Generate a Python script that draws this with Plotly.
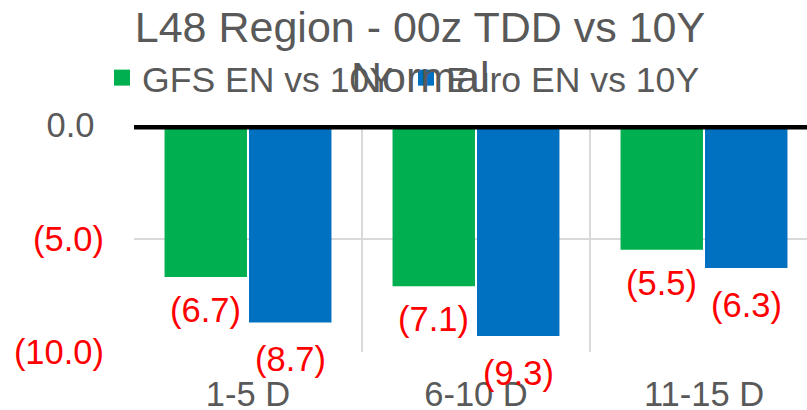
import plotly.graph_objects as go

categories = ["1-5 D", "6-10 D", "11-15 D"]
gfs_vals = [-6.7, -7.1, -5.5]
euro_vals = [-8.7, -9.3, -6.3]
series_names = ["GFS EN vs 10Y", "Euro EN vs 10Y"]
title_lines = ["L48 Region - 00z TDD vs 10Y", "Normal"]
y_tickvals = [0, -5, -10]
y_ticktext = ["0.0\u00a0", "(5.0)", "(10.0)"]
y_tickcolors = ["#595959", "#FF0000", "#FF0000"]

GREEN = "#00B050"
BLUE = "#0070C0"
GREY = "#595959"
FONT = "Liberation Sans, Arial, sans-serif"


def fmt(v):
    return f"({abs(v):.1f})" if v < 0 else f"{v:.1f}"


fig = go.Figure()
for vals, name, col in zip([gfs_vals, euro_vals], series_names, [GREEN, BLUE]):
    fig.add_trace(go.Bar(x=categories, y=vals, name=name, showlegend=False,
                         marker=dict(color=col, line=dict(width=0))))
# legend entries (square keys)
for name, col in zip(series_names, [GREEN, BLUE]):
    fig.add_trace(go.Scatter(x=[None], y=[None], mode="markers", name=name,
                             marker=dict(symbol="square", size=16, color=col,
                                         line=dict(width=0))))

# data labels below each bar end
offsets = [-42.5, 42.5]
yshifts = [-33, -37]
for vals, dx, dy in zip([gfs_vals, euro_vals], offsets, yshifts):
    for c, v in zip(categories, vals):
        fig.add_annotation(x=c, y=v, xref="x", yref="y", text=fmt(v),
                           showarrow=False, xshift=dx, yshift=dy,
                           xanchor="center", yanchor="middle",
                           font=dict(family=FONT, size=34.5, color="#FF0000"))

# second line of the title (tighter line spacing than plotly's <br>)
fig.add_annotation(x=(420 - 134) / 673, xref="paper", y=(352 - 77) / 227, yref="paper",
                   text=title_lines[1], showarrow=False,
                   xanchor="center", yanchor="middle",
                   font=dict(family=FONT, size=43, color=GREY))

ticktext_colored = [f"<span style='color:{col}'>{t}</span>" for t, col in zip(y_ticktext, y_tickcolors)]

fig.update_layout(
    width=807, height=410,
    margin=dict(l=134, r=0, t=125, b=58, autoexpand=False),
    paper_bgcolor="white", plot_bgcolor="white",
    barmode="group", bargap=0.259, bargroupgap=0.024,
    font=dict(family=FONT, color=GREY),
    title=dict(text=title_lines[0],
               x=420 / 807, xref="container", xanchor="center",
               y=1 - 27 / 410, yref="container", yanchor="middle",
               font=dict(family=FONT, size=43, color=GREY)),
    legend=dict(orientation="h", x=102 / 807, xref="container", xanchor="left",
                y=1 - 48 / 410, yref="container", yanchor="top",
                font=dict(family=FONT, size=35.6, color=GREY),
                entrywidth=259, entrywidthmode="pixels", itemsizing="trace",
                bgcolor="rgba(0,0,0,0)"),
    xaxis=dict(type="category", range=[-0.5, 2.5 - 11 / 228],
               tickson="boundaries", showgrid=True, gridcolor="#D9D9D9", gridwidth=1.5,
               ticks="", showline=False, zeroline=False,
               tickfont=dict(family=FONT, size=34.5, color=GREY),
               ticklabelstandoff=18),
    yaxis=dict(range=[-10, 0], tickvals=y_tickvals, ticktext=ticktext_colored,
               showgrid=True, gridcolor="#D9D9D9", gridwidth=1.5,
               zeroline=False, showline=False, ticks="",
               tickfont=dict(family=FONT, size=34.5, color=GREY),
               ticklabelstandoff=29),
    showlegend=True,
)

# thick axis line at zero
fig.add_shape(type="line", xref="paper", yref="y", x0=0, x1=1, y0=0, y1=0,
              line=dict(color="black", width=9), layer="above")

fig.write_html("out.html", config={"displayModeBar": False},
               post_script="document.body.style.margin='0';document.body.style.overflow='hidden';")
